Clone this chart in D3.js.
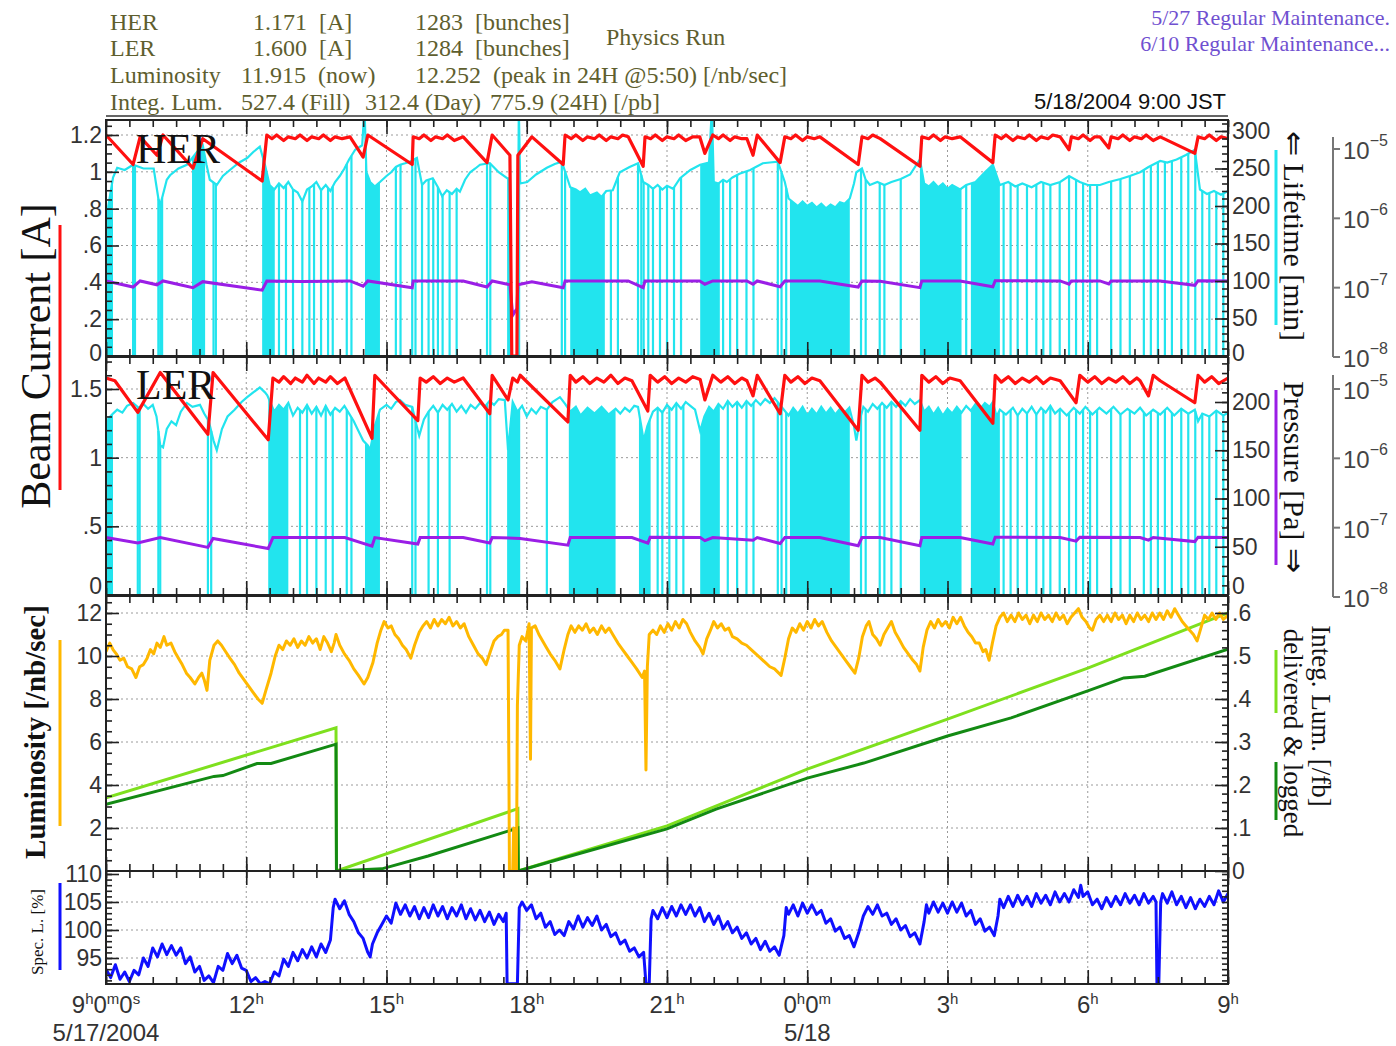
<!DOCTYPE html>
<html>
<head>
<meta charset="utf-8">
<script src="https://cdn.jsdelivr.net/npm/d3@7"></script>
<style>
  body { margin: 0; background: #fff; }
  svg { display: block; }
</style>
</head>
<body>
<svg id="chart" width="1396" height="1046"></svg>
<script>
// ---------- data (time in hours since 5/17 9:00 JST) ----------
const hourTicks  = [0, 3, 6, 9, 12, 15, 18, 21, 24];
const hourLabels = [["9","h","0","m","0","s"], ["12","h"], ["15","h"], ["18","h"], ["21","h"], ["0","h","0","m"], ["3","h"], ["6","h"], ["9","h"]];
const dateLabels = [[0, "5/17/2004"], [15, "5/18"]];

// HER beam current [A]
const herCurrent = [[0,1.2],[0.58,1.04],[0.73,1.19],[1.09,1.09],[1.22,1.2],[1.86,1.02],[2.07,1.18],[3.34,0.95],[3.44,1.2],
  [3.55,1.18],[3.65,1.2],[3.8,1.17],[3.9,1.19],[4.05,1.18],[4.15,1.2],[4.3,1.17],[4.4,1.19],[4.55,1.18],[4.65,1.2],[4.8,1.17],[4.9,1.19],[5.05,1.18],[5.22,1.19],
  [5.5,1.08],[5.6,1.2],[6.55,1.04],[6.57,1.19],[6.7,1.18],[6.8,1.2],[6.95,1.17],[7.05,1.19],[7.2,1.18],[7.3,1.2],[7.45,1.17],[7.64,1.19],
  [8.15,1.05],[8.26,1.2],[8.64,1.09],[8.68,0],[8.79,0],[8.81,1.09],[9.11,1.19],[9.78,1.04],[9.82,1.2],
  [9.95,1.18],[10.05,1.2],[10.2,1.17],[10.3,1.19],[10.45,1.18],[10.55,1.2],[10.7,1.17],[10.8,1.19],[10.95,1.18],[11.05,1.2],[11.17,1.19],
  [11.49,1.03],[11.53,1.19],[11.65,1.18],[11.75,1.2],[11.9,1.17],[12.0,1.19],[12.15,1.18],[12.25,1.2],[12.4,1.17],[12.55,1.19],[12.7,1.19],
  [12.81,1.1],[12.98,1.2],[13.1,1.18],[13.2,1.2],[13.35,1.17],[13.45,1.19],[13.6,1.18],[13.71,1.18],[13.84,1.09],[13.93,1.2],[14.42,1.05],[14.52,1.19],
  [14.65,1.18],[14.75,1.2],[14.9,1.17],[15.0,1.19],[15.15,1.18],[15.27,1.19],[16.09,1.04],[16.17,1.19],[16.3,1.18],[16.4,1.2],[16.56,1.18],[17.41,1.03],[17.45,1.19],
  [17.6,1.18],[17.7,1.2],[17.85,1.17],[17.95,1.19],[18.1,1.18],[18.27,1.19],[18.97,1.05],[19.02,1.2],
  [19.15,1.18],[19.25,1.2],[19.4,1.17],[19.5,1.19],[19.65,1.18],[19.75,1.2],[19.9,1.17],[20.0,1.19],[20.15,1.18],[20.25,1.2],[20.41,1.19],[20.6,1.12],[20.65,1.19],
  [20.8,1.18],[20.9,1.2],[21.05,1.17],[21.15,1.19],[21.26,1.19],[21.45,1.13],[21.5,1.19],[21.65,1.18],[21.75,1.2],[21.9,1.17],[22.0,1.19],[22.15,1.18],[22.25,1.2],[22.4,1.17],[22.55,1.19],
  [23.29,1.1],[23.36,1.19],[23.5,1.18],[23.6,1.2],[23.75,1.17],[23.85,1.19],[24,1.18]];

// HER lifetime [min]
const herLife = [[0,150],[0.05,200],[0.15,238],[0.24,251],[0.4,248],[0.58,255],[0.8,250],[1.02,250],[1.12,210],[1.16,201],[1.3,235],[1.37,241],[1.55,250],[1.73,255],[2.01,277],[2.07,281],[2.15,255],[2.22,235],[2.37,228],[2.5,240],[2.65,248],[2.85,258],[3.02,264],[3.15,272],[3.29,279],[3.4,255],
  [3.5,228],[3.6,222],[3.7,230],[3.8,224],[3.9,232],[4.0,222],[4.1,218],[4.2,206],[4.3,222],[4.4,226],[4.5,232],[4.6,221],[4.7,228],[4.8,220],[4.9,232],[5.0,240],[5.1,250],[5.2,262],[5.33,275],[5.48,281],[5.53,330],[5.57,245],[5.65,232],[5.75,226],[5.86,232],[6.0,240],[6.1,245],[6.2,252],[6.29,255],[6.4,257],[6.5,259],[6.65,264],[6.76,228],[6.85,234],[6.99,237],[7.1,225],[7.19,213],[7.29,221],[7.4,216],[7.5,223],[7.57,219],[7.68,235],[7.79,245],[7.9,250],[8.0,255],[8.1,256],[8.21,257],[8.4,245],[8.58,237],[8.64,237],
  [8.66,0],[8.8,0],[8.83,330],[8.86,230],[9.01,232],[9.2,242],[9.43,251],[9.6,256],[9.75,259],[9.93,225],[10.05,222],[10.14,218],[10.25,223],[10.35,214],[10.5,218],[10.6,212],[10.7,220],[10.84,221],[10.99,245],[11.2,252],[11.38,257],[11.49,232],[11.6,228],[11.7,223],[11.8,228],[11.9,222],[12.0,227],[12.13,223],[12.28,237],[12.5,248],[12.71,255],[12.9,258],[12.96,330],[13.0,232],[13.1,230],[13.2,235],[13.28,232],[13.4,238],[13.55,243],[13.78,248],[13.9,252],[14.05,257],[14.2,258],[14.37,259],[14.52,232],
  [14.6,210],[14.7,205],[14.8,200],[14.9,206],[15.0,200],[15.1,204],[15.2,198],[15.3,203],[15.4,197],[15.5,202],[15.6,198],[15.7,205],[15.8,203],[15.91,210],[16.0,230],[16.05,245],[16.17,250],[16.25,235],[16.34,228],[16.5,232],[16.65,228],[16.8,232],[17.0,236],[17.2,242],[17.41,262],[17.5,230],[17.6,226],[17.7,232],[17.8,225],[17.9,230],[18.0,223],[18.1,228],[18.27,222],[18.4,228],[18.6,232],[18.8,245],[18.97,255],[19.12,228],[19.3,232],[19.45,226],[19.6,230],[19.8,225],[20.0,232],[20.2,228],[20.41,232],[20.6,240],[20.83,232],[21.0,228],[21.26,228],[21.45,232],[21.7,236],[21.9,240],[22.12,245],[22.3,252],[22.55,260],[22.7,258],[22.9,262],[23.1,268],[23.29,275],[23.4,222],[23.55,216],[23.7,220],[23.85,215],[24,220]];

// HER injection periods (lifetime reading drops to zero)
const herInjBands = [[0,0.15],[1.84,2.12],[3.34,3.61],[5.54,5.86],[8.58,8.86],[9.93,10.67],[12.71,13.13],[14.63,15.91],[17.41,18.3],[18.5,19.12]];
const herInjDrops = [0.58,0.62,1.12,1.16,1.2,2.3,2.35,3.7,3.85,4.0,4.2,4.35,4.45,4.6,4.75,4.85,5.15,5.25,6.2,6.3,6.55,6.62,6.76,6.9,7.0,7.1,7.2,7.35,7.5,8.15,8.22,9.75,9.82,10.8,10.95,11.38,11.45,11.5,11.6,11.7,11.85,12.0,12.15,12.3,13.2,13.35,13.5,13.7,13.85,14.37,14.45,14.55,16.15,16.25,16.55,16.65,17.0,18.4,19.2,19.35,19.5,19.7,19.9,20.05,20.2,20.4,20.6,20.75,20.9,21.05,21.2,21.5,21.7,21.9,22.2,22.35,22.5,22.65,22.8,23.0,23.15,23.3,23.45,23.6,23.75,23.9];

// HER vacuum pressure [Pa]
const herPressure = [[0,1.25e-7],[0.58,1.02e-7],[0.73,1.25e-7],[1.09,1.1e-7],[1.22,1.25e-7],[1.86,1.0e-7],[2.07,1.22e-7],[3.34,0.92e-7],[3.44,1.25e-7],[4.2,1.23e-7],[5.22,1.25e-7],[5.5,1.05e-7],[5.6,1.25e-7],[6.55,1.0e-7],[6.57,1.25e-7],[7.64,1.25e-7],[8.15,1.02e-7],[8.26,1.25e-7],[8.64,1.1e-7],[8.7,0.4e-7],[8.79,0.5e-7],[8.81,1.1e-7],[9.11,1.22e-7],[9.78,1.0e-7],[9.82,1.25e-7],[11.17,1.25e-7],[11.49,1.0e-7],[11.53,1.25e-7],[12.7,1.25e-7],[12.81,1.12e-7],[12.98,1.25e-7],[13.71,1.25e-7],[13.84,1.12e-7],[13.93,1.25e-7],[14.42,1.03e-7],[14.52,1.25e-7],[15.27,1.25e-7],[16.09,1.02e-7],[16.17,1.25e-7],[16.56,1.24e-7],[17.41,1.0e-7],[17.45,1.25e-7],[18.27,1.25e-7],[18.97,1.03e-7],[19.02,1.26e-7],[20.41,1.25e-7],[20.6,1.12e-7],[20.65,1.25e-7],[21.26,1.25e-7],[21.45,1.13e-7],[21.5,1.25e-7],[22.55,1.25e-7],[23.29,1.08e-7],[23.36,1.26e-7],[24,1.25e-7]];

// LER beam current [A]
const lerCurrent = [[0,1.58],[0.19,1.56],[0.68,1.33],[1.16,1.62],[2.18,1.17],[2.29,1.62],[3.47,1.13],[3.57,1.58],
  [3.7,1.55],[3.8,1.59],[3.95,1.54],[4.05,1.58],[4.2,1.55],[4.3,1.6],[4.45,1.54],[4.55,1.58],[4.7,1.55],[4.8,1.59],[4.95,1.54],[5.11,1.58],
  [5.69,1.14],[5.75,1.6],[6.67,1.27],[6.72,1.58],[6.85,1.55],[7.0,1.59],[7.15,1.54],[7.3,1.58],[7.45,1.55],[7.64,1.58],[8.21,1.32],[8.26,1.6],[8.6,1.42],[8.7,1.58],[8.8,1.55],[8.86,1.6],[9.88,1.26],[9.93,1.6],
  [10.05,1.55],[10.2,1.59],[10.35,1.54],[10.5,1.58],[10.65,1.55],[10.8,1.6],[10.95,1.54],[11.1,1.58],[11.25,1.56],[11.59,1.34],[11.64,1.6],[11.8,1.55],[11.95,1.59],[12.1,1.54],[12.25,1.58],[12.4,1.55],[12.55,1.59],[12.71,1.57],[12.81,1.42],[12.98,1.6],
  [13.15,1.55],[13.3,1.59],[13.45,1.54],[13.6,1.58],[13.71,1.56],[13.84,1.45],[13.93,1.6],[14.42,1.32],[14.52,1.6],[14.65,1.55],[14.8,1.59],[14.95,1.54],[15.1,1.58],[15.27,1.56],[16.09,1.2],[16.17,1.6],[16.3,1.55],[16.45,1.58],[16.56,1.55],[17.41,1.2],[17.45,1.6],
  [17.6,1.55],[17.75,1.59],[17.9,1.54],[18.05,1.58],[18.27,1.56],[18.97,1.25],[19.02,1.6],[19.15,1.55],[19.3,1.59],[19.45,1.54],[19.6,1.58],[19.75,1.55],[19.9,1.59],[20.05,1.54],[20.2,1.58],[20.41,1.56],[20.75,1.4],[20.83,1.6],
  [21.0,1.55],[21.15,1.59],[21.3,1.54],[21.45,1.58],[21.6,1.55],[21.75,1.59],[21.9,1.54],[22.05,1.58],[22.12,1.56],[22.3,1.45],[22.4,1.6],[22.55,1.56],[23.29,1.4],[23.36,1.6],[23.5,1.55],[23.65,1.59],[23.8,1.54],[24,1.58]];

// LER lifetime [min]
const lerLife = [[0,160],[0.05,183],[0.15,188],[0.24,192],[0.35,189],[0.45,196],[0.58,199],[0.7,194],[0.8,198],[0.9,193],[1.0,197],[1.08,185],[1.16,155],[1.22,153],[1.3,172],[1.4,180],[1.5,176],[1.6,190],[1.73,199],[1.85,195],[2.01,197],[2.1,188],[2.2,180],[2.3,160],[2.37,150],[2.48,172],[2.6,185],[2.75,192],[2.9,200],[3.02,205],[3.15,210],[3.29,215],[3.4,210],[3.45,207],
  [3.6,190],[3.7,197],[3.8,192],[3.9,199],[4.0,186],[4.1,194],[4.2,189],[4.3,197],[4.4,188],[4.5,195],[4.6,186],[4.7,196],[4.8,187],[4.9,194],[5.0,190],[5.1,196],[5.2,188],[5.3,180],[5.4,170],[5.5,160],[5.6,155],[5.65,150],[5.75,175],[5.86,192],[6.0,197],[6.1,193],[6.2,200],[6.29,202],[6.4,197],[6.55,195],[6.62,180],[6.7,165],[6.8,182],[6.9,190],[7.0,196],[7.1,189],[7.2,197],[7.3,192],[7.4,198],[7.5,190],[7.6,196],[7.7,189],[7.8,197],[7.9,193],[8.0,199],[8.1,195],[8.2,201],[8.3,197],[8.4,203],[8.53,202],[8.6,150],[8.7,200],[8.8,190],[8.9,196],
  [9.0,185],[9.1,193],[9.2,188],[9.3,195],[9.43,192],[9.55,200],[9.71,205],[9.82,198],[9.93,190],[10.05,195],[10.15,186],[10.3,194],[10.45,188],[10.6,195],[10.75,187],[10.9,193],[11.0,188],[11.1,194],[11.2,190],[11.3,196],[11.38,195],[11.45,175],[11.5,160],[11.58,175],[11.7,190],[11.8,194],[11.9,189],[12.0,197],[12.1,192],[12.2,199],[12.3,193],[12.4,200],[12.5,196],[12.6,192],[12.71,170],[12.8,185],[12.9,195],
  [13.0,190],[13.1,198],[13.2,193],[13.3,201],[13.4,195],[13.5,200],[13.6,194],[13.7,201],[13.8,196],[13.9,202],[14.0,197],[14.1,203],[14.2,199],[14.3,204],[14.4,198],[14.5,192],[14.6,186],[14.7,194],[14.8,188],[14.9,195],[15.0,186],[15.1,193],[15.2,187],[15.3,195],[15.4,188],[15.5,194],[15.6,187],[15.7,193],[15.8,189],[15.9,194],[16.0,175],[16.05,160],[16.12,180],[16.2,195],[16.3,190],[16.4,198],[16.5,193],[16.6,199],[16.7,194],[16.8,200],[16.9,195],[17.0,201],[17.1,196],[17.2,203],[17.3,198],[17.41,202],
  [17.5,190],[17.6,195],[17.7,187],[17.8,194],[17.9,186],[18.0,193],[18.1,188],[18.2,195],[18.3,189],[18.4,196],[18.5,191],[18.6,198],[18.7,193],[18.8,199],[18.9,195],[18.97,200],[19.05,185],[19.12,192],[19.25,187],[19.4,194],[19.5,186],[19.6,193],[19.7,188],[19.8,195],[19.9,187],[20.0,194],[20.1,189],[20.2,196],[20.3,188],[20.41,193],[20.55,186],[20.7,194],[20.83,188],[20.95,195],[21.1,187],[21.25,194],[21.4,188],[21.55,195],[21.7,187],[21.85,193],[22.0,188],[22.12,194],[22.25,186],[22.4,192],[22.55,187],[22.7,194],[22.85,186],[23.0,193],[23.15,188],[23.29,192],[23.36,180],[23.45,188],[23.6,185],[23.75,191],[23.9,186],[24,189]];

const lerInjBands = [[0,0.15],[3.47,3.9],[5.54,5.86],[8.58,8.86],[9.9,10.9],[11.4,11.65],[12.71,13.13],[14.63,15.91],[17.41,18.3],[18.5,19.12]];
const lerInjDrops = [0.68,0.72,1.12,1.16,2.18,2.25,4.15,4.3,4.5,4.7,4.85,5.15,5.25,6.55,6.62,6.9,7.1,7.35,8.15,8.22,9.43,11.8,11.9,12.05,12.2,12.35,13.3,13.5,13.7,13.85,14.37,14.45,14.55,16.15,16.25,16.55,16.65,16.8,17.0,19.2,19.35,19.5,19.7,19.9,20.05,20.2,20.4,20.6,20.75,20.9,21.05,21.2,21.5,21.7,21.9,22.2,22.35,22.5,22.65,22.8,23.0,23.15,23.3,23.45,23.6,23.75,23.9];

// LER vacuum pressure [Pa]
const lerPressure = [[0,7.2e-8],[0.68,6.0e-8],[1.16,7.2e-8],[2.18,5.2e-8],[2.29,7.0e-8],[3.47,5.0e-8],[3.57,7.2e-8],[5.11,7.2e-8],[5.69,5.4e-8],[5.75,7.2e-8],[6.67,5.8e-8],[6.72,7.2e-8],[7.64,7.2e-8],[8.21,6.0e-8],[8.26,7.2e-8],[8.86,7.0e-8],[9.88,5.6e-8],[9.93,7.2e-8],[11.25,7.2e-8],[11.59,6.0e-8],[11.64,7.3e-8],[12.71,7.2e-8],[12.81,6.5e-8],[12.98,7.2e-8],[13.84,6.6e-8],[13.93,7.2e-8],[14.42,5.9e-8],[14.52,7.2e-8],[15.27,7.2e-8],[16.09,5.5e-8],[16.17,7.2e-8],[16.56,7.2e-8],[17.41,5.5e-8],[17.45,7.2e-8],[18.27,7.2e-8],[18.97,5.8e-8],[19.02,7.3e-8],[20.41,7.2e-8],[20.75,6.4e-8],[20.83,7.3e-8],[22.12,7.2e-8],[22.3,6.6e-8],[22.4,7.2e-8],[23.29,6.3e-8],[23.36,7.3e-8],[24,7.2e-8]];

// Luminosity [/nb/sec]
const luminosity = [[0,10.2],[0.08,10.6],[0.15,10.3],[0.22,10.1],[0.3,9.8],[0.38,9.9],[0.46,9.5],[0.55,9.4],[0.64,9.0],[0.72,9.5],[0.8,9.6],[0.88,9.9],[0.95,10.3],[1.02,10.1],[1.09,10.6],[1.16,10.4],[1.24,10.9],[1.3,10.5],[1.39,10.6],[1.47,10.2],[1.55,9.9],[1.63,9.6],[1.72,9.2],[1.8,9.0],[1.9,8.7],[1.98,9.0],[2.05,9.2],[2.1,8.9],[2.16,8.4],[2.22,9.8],[2.31,10.5],[2.39,10.7],[2.47,10.5],[2.56,10.2],[2.65,9.9],[2.75,9.6],[2.85,9.2],[2.95,8.9],[3.05,8.6],[3.15,8.3],[3.25,8.0],[3.34,7.8],[3.42,8.4],[3.53,9.2],[3.62,10.0],[3.7,10.5],[3.78,10.3],[3.86,10.7],[3.94,10.5],[4.02,10.8],[4.1,10.4],[4.18,10.7],[4.26,10.5],[4.34,10.9],[4.42,10.6],[4.5,10.8],[4.58,10.3],[4.66,10.9],[4.74,10.6],[4.82,10.2],[4.88,10.6],[4.92,11.0],[5.0,10.5],[5.1,10.1],[5.2,9.8],[5.3,9.4],[5.4,9.1],[5.52,8.7],[5.6,9.0],[5.71,9.7],[5.8,10.6],[5.88,11.2],[5.95,11.6],[6.03,11.3],[6.1,11.4],[6.18,11.0],[6.26,10.8],[6.34,10.5],[6.42,10.3],[6.52,9.9],[6.6,10.5],[6.7,11.1],[6.78,11.4],[6.86,11.6],[6.94,11.3],[7.02,11.7],[7.1,11.4],[7.18,11.7],[7.26,11.5],[7.34,11.8],[7.42,11.4],[7.5,11.6],[7.58,11.3],[7.66,11.5],[7.76,10.9],[7.86,10.5],[7.96,10.1],[8.05,9.9],[8.13,9.6],[8.22,10.2],[8.3,10.7],[8.38,10.9],[8.46,11.0],[8.52,11.2],[8.6,11.2],
  [8.62,4.0],[8.63,0],[8.7,0],[8.72,2.0],[8.74,0],[8.78,0],[8.8,7.7],[8.84,10.5],[8.9,10.9],[8.98,10.7],[9.05,11.5],[9.08,5.2],[9.1,11.3],[9.18,11.4],[9.26,11.0],[9.34,10.7],[9.42,10.4],[9.5,10.1],[9.6,9.8],[9.71,9.4],[9.8,10.3],[9.88,11.0],[9.95,11.4],[10.03,11.1],[10.11,11.4],[10.19,11.2],[10.27,11.5],[10.35,11.1],[10.43,11.3],[10.51,11.0],[10.6,11.4],[10.68,11.1],[10.76,11.3],[10.84,11.0],[10.95,10.6],[11.05,10.3],[11.15,10.0],[11.25,9.7],[11.35,9.4],[11.47,9.0],[11.52,9.3],[11.55,4.7],[11.58,9.5],[11.62,11.0],[11.7,11.2],[11.78,11.0],[11.86,11.4],[11.94,11.1],[12.02,11.5],[12.1,11.2],[12.18,11.6],[12.26,11.3],[12.34,11.7],[12.42,11.5],[12.5,11.1],[12.6,10.7],[12.7,10.4],[12.77,10.1],[12.85,10.8],[12.93,11.2],[13.0,11.6],[13.08,11.3],[13.16,11.5],[13.24,11.2],[13.32,11.3],[13.4,10.9],[13.5,10.8],[13.6,10.6],[13.7,10.5],[13.8,10.3],[13.9,10.1],[14.0,9.9],[14.1,9.7],[14.2,9.5],[14.3,9.4],[14.44,9.1],[14.52,9.9],[14.6,10.8],[14.68,11.3],[14.76,11.1],[14.84,11.5],[14.92,11.2],[15.0,11.6],[15.08,11.3],[15.16,11.7],[15.24,11.4],[15.32,11.6],[15.42,11.1],[15.52,10.7],[15.62,10.4],[15.72,10.1],[15.82,9.8],[15.92,9.5],[16.02,9.2],
  [16.1,9.9],[16.18,10.9],[16.26,11.4],[16.32,11.6],[16.4,11.0],[16.48,10.8],[16.56,10.5],[16.64,11.0],[16.72,11.3],[16.8,11.6],[16.88,11.1],[16.96,10.8],[17.06,10.4],[17.16,10.1],[17.26,9.8],[17.34,9.6],[17.41,9.3],[17.48,10.4],[17.56,11.2],[17.64,11.6],[17.72,11.3],[17.8,11.7],[17.88,11.4],[17.96,11.6],[18.04,11.3],[18.12,11.8],[18.2,11.5],[18.28,11.8],[18.36,11.4],[18.44,11.1],[18.52,10.9],[18.6,10.6],[18.68,10.6],[18.76,10.2],[18.82,10.3],[18.89,9.8],[18.96,10.6],[19.04,11.4],[19.12,11.8],[19.2,12.0],[19.28,11.6],[19.36,11.9],[19.44,11.6],[19.52,12.0],[19.6,11.7],[19.68,11.9],[19.76,11.5],[19.84,11.9],[19.92,11.6],[20.0,12.0],[20.08,11.7],[20.16,11.9],[20.24,11.6],[20.32,12.0],[20.4,11.7],[20.48,11.9],[20.56,11.5],[20.64,11.8],[20.72,12.0],[20.8,12.2],[20.88,11.8],[20.96,11.6],[21.04,11.3],[21.1,11.2],[21.18,11.7],[21.26,11.9],[21.34,11.6],[21.42,11.9],[21.5,11.6],[21.58,12.0],[21.66,11.7],[21.74,11.9],[21.82,11.5],[21.9,11.9],[21.98,11.6],[22.06,12.0],[22.14,11.7],[22.22,11.9],[22.3,11.6],[22.38,12.0],[22.46,11.7],[22.54,12.0],[22.62,11.7],[22.7,12.1],[22.78,11.8],[22.86,12.2],[22.94,11.9],[23.02,11.6],[23.1,11.4],[23.18,11.2],[23.26,11.0],[23.34,10.7],[23.42,11.3],[23.5,11.9],[23.58,11.7],[23.66,12.0],[23.74,11.7],[23.82,12.0],[23.9,11.7],[24,11.9]];

// Integrated luminosity [/fb], delivered and logged
const integDelivered = [[0,0.17],[4.92,0.333],[4.93,0],[8.81,0.145],[8.82,0],[9.71,0.03],[12,0.105],[15,0.237],[18,0.353],[21,0.472],[24,0.6]];
const integLogged = [[0,0.155],[2.31,0.22],[2.5,0.222],[3.23,0.25],[3.53,0.25],[4.92,0.295],[4.93,0],[5.9,0.005],[6.89,0.035],[8.81,0.1],[8.82,0],[9.71,0.028],[12,0.098],[13.05,0.144],[15,0.216],[16.21,0.251],[18,0.314],[19.36,0.356],[21,0.419],[21.77,0.449],[22.22,0.453],[24,0.516]];

// Specific luminosity [%]
const specLum = [[0,93.0],[0.1,91.5],[0.2,93.8],[0.3,91.2],[0.4,92.5],[0.5,90.8],[0.6,92.8],[0.7,92.0],[0.8,95.0],[0.9,93.5],[1.0,96.8],[1.1,95.2],[1.2,97.5],[1.3,95.6],[1.4,97.2],[1.5,95.5],[1.6,96.8],[1.7,94.0],[1.8,95.2],[1.9,92.5],[2.0,93.5],[2.1,91.0],[2.2,91.8],[2.3,90.6],[2.4,93.5],[2.5,92.8],[2.6,95.8],[2.7,94.0],[2.8,95.5],[2.9,93.2],[3.0,92.8],[3.1,90.8],[3.2,91.5],[3.3,90.4],[3.4,90.8],[3.5,90.4],[3.6,92.5],[3.7,91.8],[3.8,94.8],[3.9,93.5],[4.0,96.0],[4.1,94.5],[4.2,96.5],[4.3,95.0],[4.4,97.0],[4.5,95.2],[4.6,97.5],[4.7,96.0],[4.8,98.2],[4.86,104.0],[4.9,105.5],[5.0,103.8],[5.1,105.2],[5.2,102.8],[5.3,101.5],[5.4,99.5],[5.5,98.5],[5.6,96.0],[5.65,95.2],[5.7,97.5],[5.8,99.5],[5.9,101.0],[6.0,102.5],[6.1,101.2],[6.2,104.8],[6.3,102.8],[6.4,104.5],[6.5,102.5],[6.6,104.2],[6.7,102.0],[6.8,104.0],[6.9,102.2],[7.0,104.5],[7.1,102.5],[7.2,104.2],[7.3,102.0],[7.4,104.0],[7.5,102.5],[7.6,104.5],[7.7,102.0],[7.8,103.8],[7.9,101.8],[8.0,103.5],[8.1,101.5],[8.2,103.2],[8.3,101.0],[8.4,102.8],[8.5,101.5],[8.56,103.0],[8.58,90.4],[8.8,90.4],
  [8.84,104.0],[8.9,105.0],[9.0,103.5],[9.1,104.5],[9.2,102.0],[9.3,103.0],[9.4,100.5],[9.5,101.5],[9.6,99.2],[9.7,100.0],[9.8,99.0],[9.9,101.5],[10.0,100.2],[10.1,102.5],[10.2,100.5],[10.3,102.2],[10.4,100.8],[10.5,102.5],[10.6,100.0],[10.7,101.0],[10.8,98.8],[10.9,99.5],[11.0,97.5],[11.1,98.2],[11.2,96.2],[11.3,96.8],[11.4,95.2],[11.5,96.0],[11.55,90.4],[11.62,90.4],[11.66,102.0],[11.7,103.5],[11.8,102.0],[11.9,104.0],[12.0,102.2],[12.1,104.2],[12.2,102.5],[12.3,104.5],[12.4,102.8],[12.5,104.5],[12.6,102.5],[12.7,104.0],[12.8,101.5],[12.9,103.0],[13.0,101.0],[13.1,102.5],[13.2,100.2],[13.3,101.5],[13.4,99.5],[13.5,100.5],[13.6,98.5],[13.7,99.5],[13.8,97.5],[13.9,98.5],[14.0,96.5],[14.1,98.0],[14.2,96.2],[14.3,97.0],[14.4,95.5],[14.5,99.0],[14.55,104.0],[14.6,102.8],[14.7,104.5],[14.8,102.5],[14.9,104.8],[15.0,103.0],[15.1,104.5],[15.2,102.8],[15.3,103.5],[15.4,101.2],[15.5,102.0],[15.6,99.8],[15.7,100.5],[15.8,98.5],[15.9,99.0],[16.0,97.0],
  [16.1,99.5],[16.2,102.5],[16.3,104.2],[16.4,102.8],[16.5,104.5],[16.6,102.5],[16.7,103.0],[16.8,101.0],[16.9,102.0],[17.0,100.0],[17.1,100.8],[17.2,98.8],[17.3,99.5],[17.41,97.5],[17.5,101.5],[17.55,104.5],[17.6,103.0],[17.7,105.0],[17.8,103.2],[17.9,104.8],[18.0,103.0],[18.1,105.0],[18.2,103.2],[18.3,104.8],[18.4,102.5],[18.5,103.5],[18.6,101.0],[18.7,102.0],[18.8,99.8],[18.9,100.5],[19.0,99.0],[19.08,102.5],[19.12,105.5],[19.2,104.0],[19.3,106.0],[19.4,104.2],[19.5,106.2],[19.6,104.5],[19.7,106.0],[19.8,104.2],[19.9,106.5],[20.0,104.8],[20.1,106.2],[20.2,104.5],[20.3,106.8],[20.4,105.0],[20.5,106.5],[20.6,105.0],[20.7,107.2],[20.8,105.8],[20.85,108.0],[20.9,106.0],[21.0,106.8],[21.1,104.5],[21.2,105.5],[21.3,103.8],[21.4,105.8],[21.5,104.2],[21.6,106.0],[21.7,104.5],[21.8,106.5],[21.9,104.8],[22.0,106.2],[22.1,104.5],[22.2,106.5],[22.3,104.8],[22.4,106.0],[22.46,105.0],[22.48,90.4],[22.52,90.4],[22.56,105.0],[22.6,106.5],[22.7,104.8],[22.8,106.8],[22.9,104.5],[23.0,106.0],[23.1,104.0],[23.2,105.8],[23.3,103.8],[23.4,105.5],[23.5,104.2],[23.6,106.0],[23.7,104.5],[23.8,107.0],[23.9,105.0],[24.0,106.5]];

// axis tick values and labels
const herCurTicks = [0, 0.2, 0.4, 0.6, 0.8, 1, 1.2];
const herCurLabels = ["0", ".2", ".4", ".6", ".8", "1", "1.2"];
const herLifeTicks = [0, 50, 100, 150, 200, 250, 300];
const lerCurTicks = [0, 0.5, 1, 1.5];
const lerCurLabels = ["0", ".5", "1", "1.5"];
const lerLifeTicks = [0, 50, 100, 150, 200];
const lumTicks = [2, 4, 6, 8, 10, 12];
const integTicks = [0, 0.1, 0.2, 0.3, 0.4, 0.5, 0.6];
const integLabels = ["0", ".1", ".2", ".3", ".4", ".5", ".6"];
const specTicks = [95, 100, 105, 110];
const pressureExponents = [-5, -6, -7, -8];

// ---------- layout ----------
const svg = d3.select("#chart");
const SANS = "'Liberation Sans', Arial, sans-serif";
const SERIF = "'Liberation Serif', 'Times New Roman', serif";
const XL = 106, XR = 1228;
const x = d3.scaleLinear().domain([0, 24]).range([XL, XR]);

const P1 = {top: 120, bottom: 356}, P2 = {top: 357, bottom: 595}, P3 = {top: 596, bottom: 871}, P4 = {top: 871, bottom: 984};

const yHerI = d3.scaleLinear().domain([0, 1.2]).range([356, 135]);
const yHerL = d3.scaleLinear().domain([0, 300]).range([356, 131]);
const yHerP = d3.scaleLog().domain([1e-8, 1e-5]).range([357, 149]);
const yLerI = d3.scaleLinear().domain([0, 1.5]).range([595, 389]);
const yLerL = d3.scaleLinear().domain([0, 200]).range([595, 402]);
const yLerP = d3.scaleLog().domain([1e-8, 1e-5]).range([597, 389]);
const yLum = d3.scaleLinear().domain([0, 12]).range([871, 613]);
const yInt = d3.scaleLinear().domain([0, 0.6]).range([871, 613]);
const ySpec = d3.scaleLinear().domain([95, 105]).range([958, 902]);

const defs = svg.append("defs");
function clipFor(id, p) {
  defs.append("clipPath").attr("id", id).append("rect")
    .attr("x", XL).attr("y", p.top).attr("width", XR - XL).attr("height", p.bottom - p.top);
  return "url(#" + id + ")";
}

function valueAt(series, t) {
  const i = d3.bisector(d => d[0]).left(series, t);
  if (i <= 0) return series[0][1];
  if (i >= series.length) return series[series.length - 1][1];
  const a = series[i - 1], b = series[i];
  return a[1] + (b[1] - a[1]) * (t - a[0]) / (b[0] - a[0]);
}

function gridLines(p, yGrid) {
  const g = svg.append("g");
  g.selectAll("line.vg").data(hourTicks.slice(1, -1)).join("line")
    .attr("x1", d => x(d)).attr("x2", d => x(d)).attr("y1", p.top).attr("y2", p.bottom)
    .attr("stroke", "#9a9a9a").attr("stroke-width", 1).attr("stroke-dasharray", "2,3");
  g.selectAll("line.hg").data(yGrid).join("line")
    .attr("x1", XL).attr("x2", XR).attr("y1", d => d).attr("y2", d => d)
    .attr("stroke", "#9a9a9a").attr("stroke-width", 1).attr("stroke-dasharray", "2,3");
}

function xTicks(p) {
  const top = svg.append("g").attr("transform", `translate(0,${p.top})`);
  top.call(d3.axisTop(x).tickValues(d3.range(0, 24.01, 0.5)).tickSize(-7).tickFormat(""));
  top.call(g => g.append("g").call(d3.axisTop(x).tickValues(hourTicks).tickSize(-14).tickFormat("")));
  const bot = svg.append("g").attr("transform", `translate(0,${p.bottom})`);
  bot.call(d3.axisBottom(x).tickValues(d3.range(0, 24.01, 0.5)).tickSize(-7).tickFormat(""));
  bot.call(g => g.append("g").call(d3.axisBottom(x).tickValues(hourTicks).tickSize(-14).tickFormat("")));
  [top, bot].forEach(g => { g.selectAll(".domain").remove(); g.selectAll("line").attr("stroke", "#222").attr("stroke-width", 1.6); });
}

// y ticks point into the plot; labels sit outside. `lift` raises the bottom label.
function yTicks(scale, side, majors, minors, labels, lift) {
  const xpos = side === "left" ? XL : XR;
  const axis = side === "left" ? d3.axisLeft : d3.axisRight;
  const g = svg.append("g").attr("transform", `translate(${xpos},0)`);
  g.append("g").call(axis(scale).tickValues(minors).tickSize(-6).tickFormat(""));
  g.append("g").call(axis(scale).tickValues(majors).tickSize(-13).tickPadding(4)
    .tickFormat((d, i) => labels ? labels[i] : d));
  g.selectAll(".domain").remove();
  g.selectAll("line").attr("stroke", "#222").attr("stroke-width", 1.6);
  g.selectAll("text").attr("font-family", SANS).attr("font-size", 23).attr("fill", "#333");
  if (lift) g.selectAll("text").filter(d => d === majors[0]).attr("y", -lift);
  return g;
}

function frame(p) {
  svg.append("rect").attr("x", XL).attr("y", p.top).attr("width", XR - XL).attr("height", p.bottom - p.top)
    .attr("fill", "none").attr("stroke", "#222").attr("stroke-width", 2);
}

const line = (ys) => d3.line().x(d => x(d[0])).y(d => ys(d[1]));
const CYAN = "#22e4ee";

function injections(clip, life, ys, bands, drops) {
  const g = svg.append("g").attr("clip-path", clip);
  bands.forEach(([s, e]) => {
    const pts = [[s, valueAt(life, s)], ...life.filter(d => d[0] > s && d[0] < e), [e, valueAt(life, e)]];
    g.append("path").datum(pts)
      .attr("d", d3.area().x(d => x(d[0])).y0(ys(0)).y1(d => ys(d[1])))
      .attr("fill", CYAN);
  });
  g.selectAll("line.drop").data(drops).join("line")
    .attr("x1", d => x(d)).attr("x2", d => x(d))
    .attr("y1", ys(0)).attr("y2", d => ys(valueAt(life, d)))
    .attr("stroke", CYAN).attr("stroke-width", 2.2);
  g.append("path").datum(life).attr("d", line(ys))
    .attr("fill", "none").attr("stroke", CYAN).attr("stroke-width", 2.2);
}

// ---------- panel 1 : HER ----------
const c1 = clipFor("c1", P1);
gridLines(P1, herCurTicks.slice(1).map(yHerI));
injections(c1, herLife, yHerL, herInjBands, herInjDrops);
svg.append("path").datum(herPressure).attr("clip-path", c1).attr("d", line(yHerP))
  .attr("fill", "none").attr("stroke", "#9a1ee6").attr("stroke-width", 3);
svg.append("path").datum(herCurrent).attr("clip-path", c1).attr("d", line(yHerI))
  .attr("fill", "none").attr("stroke", "#ff1010").attr("stroke-width", 3.2).attr("stroke-linejoin", "round");
svg.append("text").attr("x", 136).attr("y", 163).text("HER")
  .attr("font-family", SERIF).attr("font-size", 42).attr("fill", "#111");
frame(P1); xTicks(P1);
yTicks(yHerI, "left", herCurTicks, d3.range(0, 1.26, 0.05), herCurLabels, 3);
yTicks(yHerL, "right", herLifeTicks, d3.range(0, 311, 10), null, 3);

// ---------- panel 2 : LER ----------
const c2 = clipFor("c2", P2);
gridLines(P2, lerCurTicks.slice(1).map(yLerI));
injections(c2, lerLife, yLerL, lerInjBands, lerInjDrops);
svg.append("path").datum(lerPressure).attr("clip-path", c2).attr("d", line(yLerP))
  .attr("fill", "none").attr("stroke", "#9a1ee6").attr("stroke-width", 3);
svg.append("path").datum(lerCurrent).attr("clip-path", c2).attr("d", line(yLerI))
  .attr("fill", "none").attr("stroke", "#ff1010").attr("stroke-width", 3.2).attr("stroke-linejoin", "round");
svg.append("text").attr("x", 136).attr("y", 399).text("LER")
  .attr("font-family", SERIF).attr("font-size", 42).attr("fill", "#111");
frame(P2); xTicks(P2);
yTicks(yLerI, "left", lerCurTicks, d3.range(0, 1.71, 0.1), lerCurLabels, 9);
yTicks(yLerL, "right", lerLifeTicks, d3.range(0, 241, 10), null, 9);

// ---------- panel 3 : luminosity ----------
const c3 = clipFor("c3", P3);
gridLines(P3, lumTicks.map(yLum));
svg.append("path").datum(integDelivered).attr("clip-path", c3).attr("d", line(yInt))
  .attr("fill", "none").attr("stroke", "#7ee01e").attr("stroke-width", 3);
svg.append("path").datum(integLogged).attr("clip-path", c3).attr("d", line(yInt))
  .attr("fill", "none").attr("stroke", "#138a13").attr("stroke-width", 3);
svg.append("path").datum(luminosity).attr("clip-path", c3).attr("d", line(yLum))
  .attr("fill", "none").attr("stroke", "#ffb800").attr("stroke-width", 3).attr("stroke-linejoin", "round");
frame(P3); xTicks(P3);
yTicks(yLum, "left", lumTicks, d3.range(0.5, 12.6, 0.5));
yTicks(yInt, "right", integTicks, d3.range(0, 0.631, 0.02), integLabels);

// ---------- panel 4 : specific luminosity ----------
const c4 = clipFor("c4", P4);
gridLines(P4, [95, 100, 105].map(ySpec));
svg.append("path").datum(specLum).attr("clip-path", c4).attr("d", line(ySpec))
  .attr("fill", "none").attr("stroke", "#1010ff").attr("stroke-width", 3).attr("stroke-linejoin", "round");
frame(P4); xTicks(P4);
yTicks(ySpec, "left", specTicks, d3.range(91, 110.1, 1));
yTicks(ySpec, "right", [], d3.range(91, 110.1, 1));

// ---------- time axis labels ----------
const xl = svg.append("g").attr("font-family", SANS).attr("fill", "#333");
hourTicks.forEach((t, i) => {
  const txt = xl.append("text").attr("x", x(t)).attr("y", 1013).attr("text-anchor", "middle").attr("font-size", 24);
  hourLabels[i].forEach((s, k) => {
    if (k % 2 === 0) txt.append("tspan").text(s).attr("dy", k === 0 ? 0 : 9).attr("font-size", 24);
    else txt.append("tspan").text(s).attr("dy", -9).attr("font-size", 15);
  });
});
dateLabels.forEach(([t, s]) => xl.append("text").attr("x", x(t)).attr("y", 1041)
  .attr("text-anchor", "middle").attr("font-size", 24).text(s));

// ---------- header ----------
const hd = svg.append("g").attr("font-family", SERIF).attr("font-size", 24).attr("fill", "#5e5e2e");
[
  [110, 30, "HER"], [253, 30, "1.171  [A]"], [415, 30, "1283  [bunches]"],
  [110, 56, "LER"], [253, 56, "1.600  [A]"], [415, 56, "1284  [bunches]"],
  [606, 45, "Physics Run"],
  [110, 83, "Luminosity"], [241, 83, "11.915  (now)"], [415, 83, "12.252  (peak in 24H @5:50) [/nb/sec]"],
  [110, 110, "Integ. Lum."], [241, 110, "527.4 (Fill)"], [365, 110, "312.4 (Day)"], [490, 110, "775.9 (24H) [/pb]"]
].forEach(([tx, ty, s]) => hd.append("text").attr("x", tx).attr("y", ty).attr("xml:space", "preserve").text(s));
svg.append("line").attr("x1", 106).attr("x2", 1228).attr("y1", 116).attr("y2", 116)
  .attr("stroke", "#666").attr("stroke-width", 2);
svg.append("text").attr("x", 1226).attr("y", 109).attr("text-anchor", "end")
  .attr("font-family", SANS).attr("font-size", 22).attr("fill", "#111").text("5/18/2004 9:00 JST");
const note = svg.append("g").attr("font-family", SERIF).attr("font-size", 22).attr("fill", "#7050d0").attr("text-anchor", "end");
note.append("text").attr("x", 1390).attr("y", 25).text("5/27 Regular Maintenance.");
note.append("text").attr("x", 1390).attr("y", 51).text("6/10 Regular Maintenance...");

// ---------- axis titles ----------
function vtext(tx, ty, angle, s, size, weight) {
  svg.append("text").attr("transform", `translate(${tx},${ty}) rotate(${angle})`)
    .attr("text-anchor", "middle").attr("font-family", SERIF).attr("font-size", size)
    .attr("font-weight", weight || "normal").attr("fill", "#111").text(s);
}
function bar(tx, y1, y2, color) {
  svg.append("line").attr("x1", tx).attr("x2", tx).attr("y1", y1).attr("y2", y2)
    .attr("stroke", color).attr("stroke-width", 3);
}
vtext(50, 356, -90, "Beam Current [A]", 42);
bar(60, 225, 490, "#ff1010");
vtext(45, 732, -90, "Luminosity [/nb/sec]", 29, "bold");
bar(60, 640, 826, "#ffb800");
vtext(43, 932, -90, "Spec. L. [%]", 17);
bar(60, 883, 970, "#1010ff");

vtext(1284, 236, 90, "\u21d0 Lifetime [min]", 30);
bar(1276, 150, 325, CYAN);
vtext(1284, 477, 90, "Pressure [Pa] \u21d2", 30);
bar(1276, 390, 565, "#9a1ee6");
vtext(1312, 716, 90, "Integ. Lum. [/fb]", 27);
vtext(1284, 733, 90, "delivered & logged", 27);
bar(1276, 650, 713, "#7ee01e");
bar(1276, 762, 820, "#138a13");

// ---------- pressure log scales ----------
function logAxis(ys, y1, y2) {
  const g = svg.append("g");
  g.append("line").attr("x1", 1333).attr("x2", 1333).attr("y1", y1).attr("y2", y2)
    .attr("stroke", "#777").attr("stroke-width", 2);
  pressureExponents.forEach(e => {
    const yy = ys(Math.pow(10, e));
    g.append("line").attr("x1", 1333).attr("x2", 1340).attr("y1", yy).attr("y2", yy)
      .attr("stroke", "#777").attr("stroke-width", 2);
    const t = g.append("text").attr("x", 1343).attr("y", yy + 10).attr("font-family", SANS)
      .attr("font-size", 24).attr("fill", "#444");
    t.append("tspan").text("10");
    t.append("tspan").text("\u2212" + (-e)).attr("font-size", 16).attr("dy", -13);
  });
}
logAxis(yHerP, 137, 357);
logAxis(yLerP, 375, 597);
</script>
</body>
</html>
